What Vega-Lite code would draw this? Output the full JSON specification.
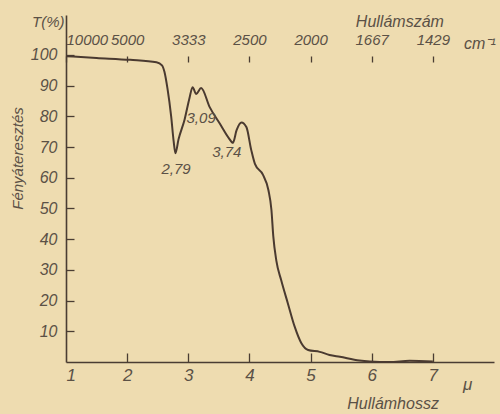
{
  "$schema": "https://vega.github.io/schema/vega-lite/v6.json",
  "autosize": {"type": "none"},
  "width": 428,
  "height": 347,
  "padding": {"left": 66, "top": 15, "right": 6, "bottom": 52},
  "background": "#eedcb0",
  "config": {
    "view": {"stroke": null},
    "axis": {
      "grid": false,
      "labelOverlap": false,
      "domainColor": "#4a3d33",
      "domainWidth": 1.6,
      "tickColor": "#4a3d33",
      "tickWidth": 1.3,
      "labelFont": "Liberation Sans Narrow, Liberation Sans",
      "labelFontStyle": "italic",
      "labelFontSize": 15,
      "labelColor": "#5b5146",
      "titleFont": "Liberation Sans Narrow, Liberation Sans",
      "titleFontStyle": "italic",
      "titleFontWeight": "normal",
      "titleColor": "#5b5146"
    },
    "text": {"font": "Liberation Sans Narrow, Liberation Sans", "fontStyle": "italic", "color": "#5b5146"}
  },
  "datasets": {
    "spectrum": [
      {"mu": 1.0, "T": 99.6},
      {"mu": 1.5, "T": 99.0},
      {"mu": 2.05, "T": 98.4},
      {"mu": 2.48, "T": 97.6},
      {"mu": 2.57, "T": 96.6},
      {"mu": 2.61, "T": 94.5},
      {"mu": 2.66, "T": 89},
      {"mu": 2.72, "T": 80},
      {"mu": 2.76, "T": 72},
      {"mu": 2.79, "T": 68},
      {"mu": 2.84, "T": 72.5},
      {"mu": 2.94, "T": 79},
      {"mu": 3.02, "T": 86},
      {"mu": 3.07, "T": 89.5},
      {"mu": 3.13, "T": 87.3},
      {"mu": 3.21, "T": 89.2},
      {"mu": 3.35, "T": 83},
      {"mu": 3.52, "T": 77.5},
      {"mu": 3.66, "T": 73},
      {"mu": 3.73, "T": 71.4},
      {"mu": 3.79, "T": 75.5},
      {"mu": 3.87, "T": 78},
      {"mu": 3.95, "T": 76.5},
      {"mu": 4.03, "T": 69},
      {"mu": 4.09, "T": 64.5},
      {"mu": 4.22, "T": 61},
      {"mu": 4.31, "T": 56},
      {"mu": 4.36, "T": 49.5},
      {"mu": 4.39, "T": 41},
      {"mu": 4.44, "T": 33},
      {"mu": 4.52, "T": 26.6},
      {"mu": 4.63, "T": 19},
      {"mu": 4.74, "T": 11.5},
      {"mu": 4.85, "T": 6.1},
      {"mu": 4.96, "T": 3.9},
      {"mu": 5.15, "T": 3.3},
      {"mu": 5.31, "T": 2.3},
      {"mu": 5.48, "T": 1.7},
      {"mu": 5.8, "T": 0.5},
      {"mu": 5.97, "T": 0.2},
      {"mu": 6.29, "T": 0.0},
      {"mu": 6.62, "T": 0.4},
      {"mu": 7.0, "T": 0.2}
    ],
    "peaks": [
      {"mu": 2.8, "T": 63, "label": "2,79"},
      {"mu": 3.21, "T": 79.5, "label": "3,09"},
      {"mu": 3.63, "T": 68.4, "label": "3,74"}
    ],
    "titles": [
      {"mu": 0.71, "T": 110.7, "label": "T(%)", "size": 15},
      {"mu": 6.46, "T": 110.7, "label": "Hullámszám", "size": 16},
      {"mu": 7.77, "T": 103.6, "label": "cm⁻¹", "size": 16},
      {"mu": 7.57, "T": -7.5, "label": "μ", "size": 17},
      {"mu": 6.35, "T": -13.7, "label": "Hullámhossz", "size": 16}
    ]
  },
  "layer": [
    {
      "data": {"name": "spectrum"},
      "mark": {"type": "line", "color": "#4a3a30", "strokeWidth": 2, "interpolate": "monotone", "clip": false},
      "encoding": {
        "x": {
          "field": "mu", "type": "quantitative",
          "scale": {"domain": [1, 8], "nice": false, "zero": false},
          "axis": {"orient": "bottom", "values": [1, 2, 3, 4, 5, 6, 7], "ticks": false, "labelPadding": 5, "labelFontSize": 17, "title": null, "labelAngle": 0}
        },
        "y": {
          "field": "T", "type": "quantitative",
          "scale": {"domain": [0, 113], "nice": false},
          "axis": {
            "values": [10, 20, 30, 40, 50, 60, 70, 80, 90, 100],
            "ticks": false, "labelPadding": 9, "labelFontSize": 16,
            "title": "Fényáteresztés", "titleFontSize": 15,
            "titleX": -49, "titleY": 143, "titleAngle": -90, "titleAlign": "center", "titleBaseline": "middle"
          }
        }
      }
    },
    {
      "data": {"name": "peaks"},
      "mark": {"type": "text", "align": "center", "baseline": "middle", "fontSize": 15},
      "encoding": {
        "x": {
          "field": "mu", "type": "quantitative",
          "axis": {
            "orient": "top", "values": [1, 2, 3, 4, 5, 6, 7], "domain": false,
            "offset": -47, "tickSize": 6, "labelPadding": 9, "labelFlush": true,
            "labelExpr": "round(10000 / datum.value)", "title": null, "labelFontSize": 15
          }
        },
        "y": {
          "field": "T", "type": "quantitative",
          "axis": {"orient": "right", "offset": -428, "values": [10, 20, 30, 40, 50, 60, 70, 80, 90, 100], "domain": false, "labels": false, "tickSize": 8, "title": null}
        },
        "text": {"field": "label"}
      }
    },
    {
      "data": {"name": "titles"},
      "mark": {"type": "text", "align": "center", "baseline": "middle"},
      "encoding": {
        "x": {
          "field": "mu", "type": "quantitative",
          "axis": {"orient": "top", "offset": -347, "values": [2, 3, 4, 5, 6, 7], "domain": false, "labels": false, "tickSize": 9, "title": null}
        },
        "y": {"field": "T", "type": "quantitative", "axis": null},
        "text": {"field": "label"},
        "size": {"field": "size", "type": "quantitative", "scale": null}
      }
    }
  ],
  "resolve": {"axis": {"x": "independent", "y": "independent"}}
}
